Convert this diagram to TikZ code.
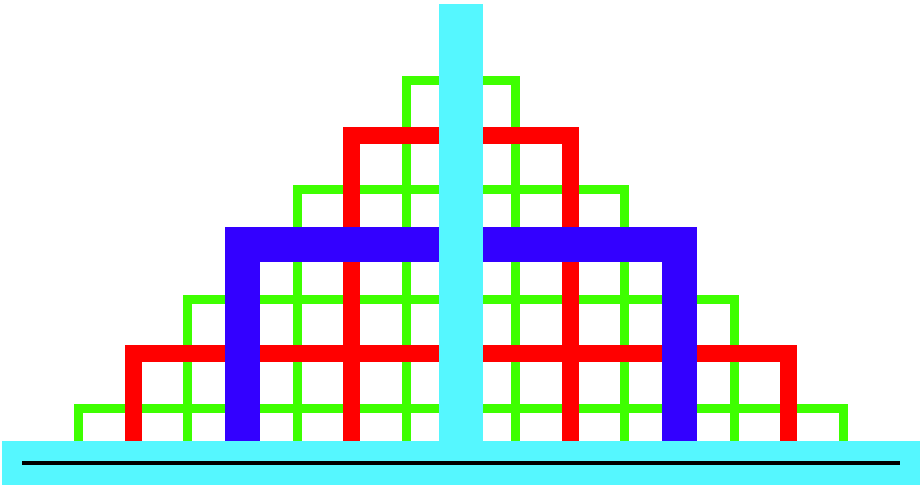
\documentclass[tikz,border=0pt]{standalone}
\definecolor{grn}{RGB}{62,255,0}
\definecolor{rd}{RGB}{255,0,0}
\definecolor{bl}{RGB}{51,0,255}
\definecolor{cy}{RGB}{85,247,255}
\tikzset{
  grnline/.style={draw=grn,line width=9pt,line join=miter,line cap=butt},
  rdline/.style={draw=rd,line width=17pt,line join=miter,line cap=butt},
  blline/.style={draw=bl,line width=35pt,line join=miter,line cap=butt},
  cyline/.style={draw=cy,line width=44pt,line cap=rect},
  baseline/.style={draw=black,line width=4pt,line cap=butt}
}
\begin{document}
\begin{tikzpicture}[x=1pt,y=-1pt]
\useasboundingbox (0,0) rectangle (924,495);
\def\cx{461}
\def\u{54.65}
\def\yo{80.5}
\pgfmathsetmacro{\yb}{\yo+7*\u}
% rows: (half-width factor, row level factor, style)
\foreach \w/\k in {1/0,3/2,5/4,7/6}{
  \path[grnline] (\cx-\w*\u,\yb) -- (\cx-\w*\u,\yo+\k*\u) -- (\cx+\w*\u,\yo+\k*\u) -- (\cx+\w*\u,\yb);
}
\foreach \w/\k in {2/1,6/5}{
  \path[rdline] (\cx-\w*\u,\yb) -- (\cx-\w*\u,\yo+\k*\u) -- (\cx+\w*\u,\yo+\k*\u) -- (\cx+\w*\u,\yb);
}
\path[blline] (\cx-4*\u,\yb) -- (\cx-4*\u,\yo+3*\u) -- (\cx+4*\u,\yo+3*\u) -- (\cx+4*\u,\yb);
\path[cyline] (\cx,\yo-\u) -- (\cx,\yb);
\path[cyline] (\cx-8*\u,\yb) -- (\cx+8*\u,\yb);
\coordinate (bl) at (22,\yb);
\coordinate (br) at (900,\yb);
\path[baseline] (bl) -- (br);
\end{tikzpicture}
\end{document}
